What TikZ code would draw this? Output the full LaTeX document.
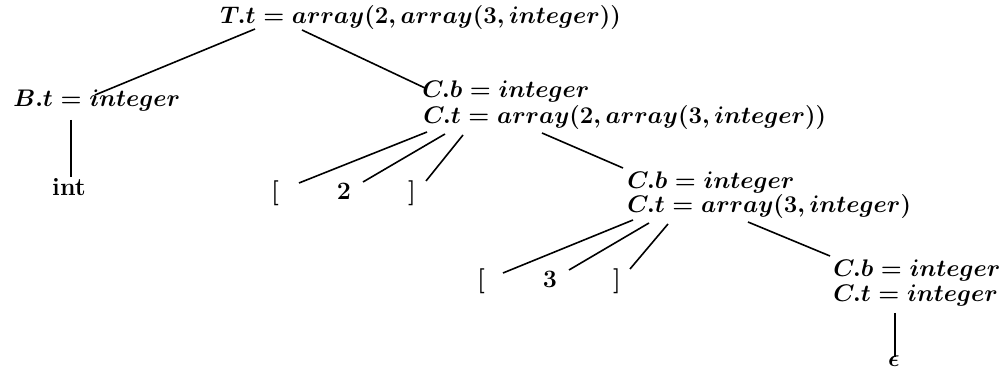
\documentclass[tikz,border=0pt]{standalone}
\usetikzlibrary{calc}
\begin{document}
\begin{tikzpicture}[x=0.5pt,y=-0.5pt,
  lbl/.style={anchor=base west,inner sep=0pt,font=\fontsize{12.5}{14}\selectfont\boldmath},
  leaf/.style={anchor=base,inner sep=0pt,font=\fontsize{12.5}{14}\selectfont\bfseries\boldmath},
  edge/.style={line width=0.8pt,black}]
\useasboundingbox (0,0) rectangle (1003,379);
% nodes
\node[lbl] (root) at (220,24) {$T.t = array(2, array(3, integer))$};
\node[lbl] (B) at (13,107) {$B.t = integer$};
\node[leaf] (int) at (69,196) {int};
\node[lbl] (C1b) at (422,98) {$C.b = integer$};
\node[lbl] (C1t) at (423,124) {$C.t = array(2, array(3, integer))$};
\node[leaf] (lb1) at (275,200) {[};
\node[leaf] (two) at (344,200) {2};
\node[leaf] (rb1) at (412,200) {]};
\node[lbl] (C2b) at (627,189) {$C.b = integer$};
\node[lbl] (C2t) at (627,213) {$C.t = array(3, integer)$};
\node[leaf] (lb2) at (481,288) {[};
\node[leaf] (three) at (550,288) {3};
\node[leaf] (rb2) at (617,288) {]};
\node[lbl] (C3b) at (833,277) {$C.b = integer$};
\node[lbl] (C3t) at (833,302) {$C.t = integer$};
\node[leaf] (eps) at (894,367) {$\epsilon$};
% edges
\draw[edge] ($(root.base west)+(35,5)$) -- ($(B.base west)+(82,-12)$);
\draw[edge] ($(root.base west)+(82,6)$) -- ($(C1b.base west)+(3,-10)$);
\draw[edge] ($(B.base west)+(58,13)$) -- ($(int.base)+(2,-19)$);
\draw[edge] ($(C1t.base west)+(4,8)$) -- ($(lb1.base)+(24,-17)$);
\draw[edge] ($(C1t.base west)+(22,10)$) -- ($(two.base)+(19,-18)$);
\draw[edge] ($(C1t.base west)+(40,11)$) -- ($(rb1.base)+(14,-19)$);
\draw[edge] ($(C1t.base west)+(119,9)$) -- ($(C2b.base west)+(-4,-21)$);
\draw[edge] ($(C2t.base west)+(6,7)$) -- ($(lb2.base)+(22,-15)$);
\draw[edge] ($(C2t.base west)+(22,10)$) -- ($(three.base)+(19,-18)$);
\draw[edge] ($(C2t.base west)+(41,11)$) -- ($(rb2.base)+(13,-19)$);
\draw[edge] ($(C2t.base west)+(121,9)$) -- ($(C3b.base west)+(-3,-21)$);
\draw[edge] ($(C3t.base west)+(62,11)$) -- ($(eps.base)+(1,-10)$);
\end{tikzpicture}
\end{document}
